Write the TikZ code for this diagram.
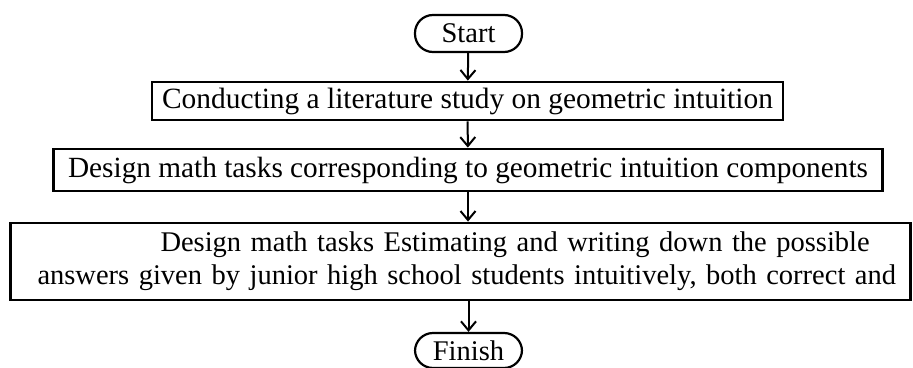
\documentclass[tikz,border=0pt]{standalone}
\usepackage{fontspec}
\setmainfont{Liberation Serif}
\usepackage{tikz}
\usetikzlibrary{arrows.meta, positioning}
\tikzset{
	terminal/.style={rectangle, rounded corners=18pt, minimum width=107pt, minimum height=37pt, text centered, draw=black, line width=2.2pt, inner sep=0pt},
	stepbox/.style ={rectangle, text centered, draw=black, line width=2.8pt, inner sep=0pt},
	flowarrow/.style={-{Straight Barb[length=9pt, width=15pt, line width=2pt]}, line width=2pt},
}
\begin{document}
\begin{tikzpicture}[x=1pt, y=-1pt, font=\fontsize{28.5}{33}\selectfont]
	\useasboundingbox (0,0) rectangle (913,367);
	\node[terminal] (start) at (468.5,33.5) {Start};
	\node[stepbox, minimum width=631pt, minimum height=38pt, font=\fontsize{29.4}{33}\selectfont] (study) at (467.5,101) {Conducting a literature study on geometric intuition};
	\node[stepbox, minimum width=829pt, minimum height=42pt, font=\fontsize{29.3}{33}\selectfont] (tasks) at (468,170) {Design math tasks corresponding to geometric intuition components};
	\node[stepbox, minimum width=900pt, minimum height=77pt, text width=880pt, align=left] (answers) at (460.5,261.5)
		{\hspace*{140pt}Design math tasks Estimating and writing down the possible\\\hspace*{17pt}answers given by junior high school students intuitively, both correct and};
	\node[terminal, minimum height=35pt] (finish) at (468.5,350.5) {Finish};
	% arrows between steps
	\draw[flowarrow] (start) -- (study);
	\draw[flowarrow] (study) -- (tasks);
	\draw[flowarrow] (tasks.south) -- (tasks.south |- answers.north);
	\draw[flowarrow] (answers.south -| finish) -- (finish);
\end{tikzpicture}
\end{document}
